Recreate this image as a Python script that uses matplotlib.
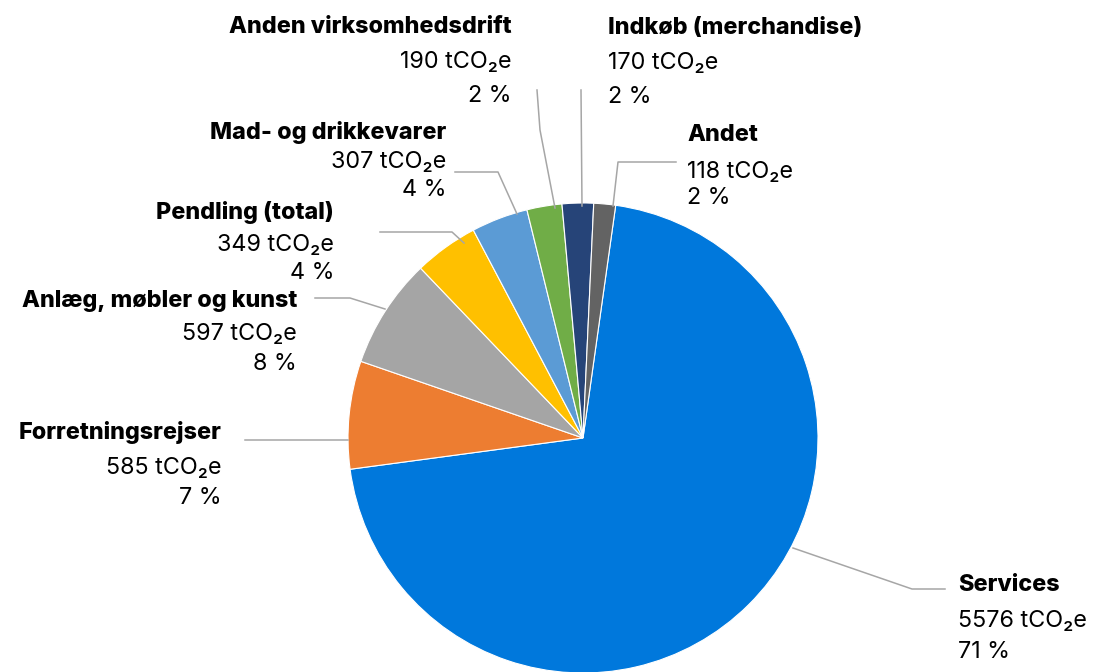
import matplotlib.pyplot as plt

# data (tCO2e)
categories = ["Services", "Forretningsrejser", "Anlæg, møbler og kunst", "Pendling (total)",
              "Mad- og drikkevarer", "Anden virksomhedsdrift", "Indkøb (merchandise)", "Andet"]
values = [5576, 585, 597, 349, 307, 190, 170, 118]
pct_labels = ["71 %", "7 %", "8 %", "4 %", "4 %", "2 %", "2 %", "2 %"]
colors = ["#0078DC", "#ED7D31", "#A5A5A5", "#FFC000", "#5B9BD5", "#70AD47", "#264478", "#636363"]

plt.rcParams['font.family'] = ['Inter', 'DejaVu Sans']

W, H = 1094, 672
fig = plt.figure(figsize=(W / 100, H / 100), dpi=100)
ax = fig.add_axes([0, 0, 1, 1])

# pie in pixel-like coordinates (y up)
cx, cy, r = 583, H - 438, 235
ax.pie(values, colors=colors, startangle=82, counterclock=False,
       center=(cx, cy), radius=r,
       wedgeprops=dict(edgecolor="white", linewidth=0.8))

ax.set_xlim(0, W)
ax.set_ylim(0, H)
ax.set_aspect("equal")
ax.axis("off")

# label placement: (x, y of name, y of value, y of pct, alignment)
label_pos = {
    "Services": (958, 585, 621, 652, "left"),
    "Forretningsrejser": (222, 432, 468, 498, "right"),
    "Anlæg, møbler og kunst": (297, 301, 334, 364, "right"),
    "Pendling (total)": (334, 213, 245, 273, "right"),
    "Mad- og drikkevarer": (446, 133, 162, 190, "right"),
    "Anden virksomhedsdrift": (512, 27, 62, 96, "right"),
    "Indkøb (merchandise)": (608, 28, 63, 97, "left"),
    "Andet": (687, 135, 172, 198, "left"),
}

leaders = {
    "Services": [(793, 548), (912, 589), (945, 589)],
    "Forretningsrejser": [(245, 440), (348, 440)],
    "Anlæg, møbler og kunst": [(315, 298), (350, 298), (385, 309)],
    "Pendling (total)": [(380, 232), (452, 232), (464, 243)],
    "Mad- og drikkevarer": [(455, 172), (498, 172), (517, 214)],
    "Anden virksomhedsdrift": [(537, 90), (540, 130), (555, 208)],
    "Indkøb (merchandise)": [(581, 90), (582, 206)],
    "Andet": [(676, 162), (618, 162), (613, 206)],
}

fs = 16.8
for cat, val, pct in zip(categories, values, pct_labels):
    x, y1, y2, y3, ha = label_pos[cat]
    ax.text(x, H - y1, cat, ha=ha, va="center", fontsize=fs, fontweight="heavy", color="black")
    ax.text(x, H - y2, f"{val} tCO₂e", ha=ha, va="center", fontsize=fs, color="black")
    ax.text(x, H - y3, pct, ha=ha, va="center", fontsize=fs, color="black")
    pts = leaders[cat]
    ax.plot([p[0] for p in pts], [H - p[1] for p in pts], color="#A6A6A6", lw=1.1)

fig.savefig("out.png", dpi=100)
